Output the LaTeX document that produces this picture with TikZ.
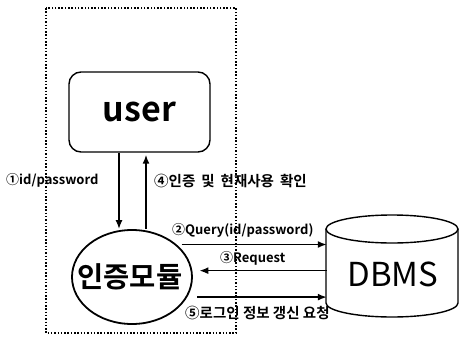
\documentclass[tikz,border=0pt]{standalone}
\usepackage{fontspec}
\setmainfont{Noto Sans CJK KR}[BoldFont={Noto Sans CJK KR Bold}]
\usetikzlibrary{arrows.meta,shapes.geometric}

\begin{document}
\begin{tikzpicture}[x=1pt,y=-1pt,
    flow/.style={line width=1.6pt,-{Latex[length=9pt,width=7pt]}},
    lbl/.style={font=\bfseries\fontsize{13}{14}\selectfont,inner sep=0pt},
    krlbl/.style={lbl,font=\bfseries\fontsize{14.5}{16}\selectfont}]
    \useasboundingbox (0,0) rectangle (459,338);

    %----------------------------------------
    % MODULE BOUNDARY (dotted frame)
    %----------------------------------------
    \draw[line width=1.3pt, dash pattern=on 1.5pt off 1.8pt] (46,8) rectangle (236,333);

    %----------------------------------------
    % Nodes: user, auth module, DBMS
    %----------------------------------------
    \node[draw, line width=1.4pt, rounded corners=12pt, minimum width=141,
          minimum height=80, inner sep=0,
          font=\bfseries\fontsize{34}{34}\selectfont] (user) at (139.5,112) {user};

    \node[draw, ellipse, line width=1.8pt, minimum width=120, minimum height=94,
          inner sep=0] (auth) at (132,277) {};
    \node[font=\bfseries\fontsize{28.5}{28.5}\selectfont] (authtext) at (130,277) {인증모듈};

    % cylinder: top ellipse, sides and bottom arc
    \def\rx{66}
    \def\ry{14}
    \draw[line width=1.4pt] (392,229) ellipse [x radius=\rx, y radius=\ry];
    \draw[line width=1.4pt] (326,229) -- (326,303)
        arc[start angle=180, end angle=0, x radius=\rx, y radius=\ry] -- (458,229);
    \node[font=\fontsize{33}{33}\selectfont, minimum width=132, minimum height=88,
          inner sep=0] (dbms) at (393,274) {DBMS};

    %----------------------------------------
    % Messages
    %----------------------------------------
    \coordinate (down) at (119,0);
    \coordinate (up) at (146,0);

    \draw[flow] (down |- user.south) -- (down |- auth.north);
    \draw[flow, shorten >=2pt] (up |- auth.north) -- (up |- user.south);

    \draw[flow, shorten <=5pt] (auth.36) -- (auth.36 -| dbms.west);
    \draw[flow, shorten >=7pt] (auth.6 -| dbms.west) -- (auth.6);
    \draw[flow, shorten <=10pt] (auth.-20) -- (auth.-20 -| dbms.west);

    % labels
    \node[lbl, anchor=west] (msg1) at (6,180) {①id/password};
    \node[krlbl, anchor=west] (msg4) at (154,181)
        {④인증\hspace{6pt}및\hspace{6pt}현재사용\hspace{6pt}확인};
    \node[lbl, anchor=west] (msg2) at (172,230) {②Query(id/password)};
    \node[lbl, anchor=west] (msg3) at (220,258) {③Request};
    \node[krlbl, anchor=west] (msg5) at (185,313) {⑤로그인 정보 갱신 요청};

\end{tikzpicture}
\end{document}
